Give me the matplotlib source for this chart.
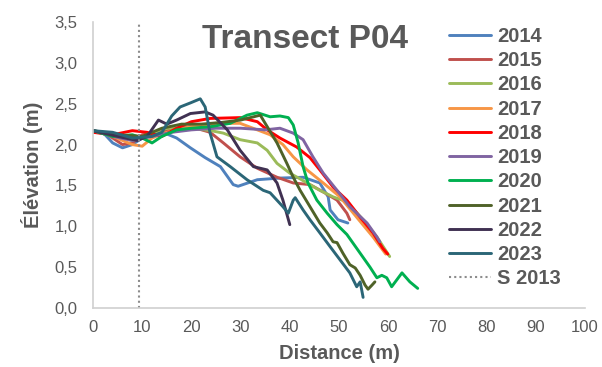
import matplotlib
matplotlib.use("Agg")
import matplotlib.pyplot as plt
from matplotlib.ticker import FuncFormatter

plt.rcParams['font.family'] = ['Liberation Sans', 'DejaVu Sans']

title = "Transect P04"
xlabel = "Distance (m)"
ylabel = "Élévation (m)"
s2013_x = 9.4

years = ["2014", "2015", "2016", "2017", "2018", "2019", "2020", "2021", "2022", "2023"]
colors = ["#4F81BD", "#C0504D", "#9BBB59", "#F79646", "#FF0000",
          "#8064A2", "#00B050", "#4F6228", "#403152", "#2B6677"]

x2014 = [0, 2, 4, 6, 8, 10, 13, 15, 17, 19.8, 22.8, 25.9, 28.5, 29.5, 33.4, 38, 42.7, 46.1, 47.8, 48.2, 49.8, 51.8]
y2014 = [2.17, 2.15, 2.02, 1.96, 2.0, 2.08, 2.12, 2.13, 2.08, 1.96, 1.84, 1.73, 1.51, 1.49, 1.57, 1.59, 1.60, 1.53, 1.36, 1.20, 1.08, 1.04]

x2015 = [0, 3, 6, 8, 10, 14, 17, 19.8, 23.8, 26.5, 29.9, 33.4, 37.4, 40.7, 44.1, 46.8, 49.6, 51.6, 52.2]
y2015 = [2.17, 2.12, 2.0, 2.02, 2.12, 2.15, 2.2, 2.22, 2.15, 2.02, 1.85, 1.71, 1.60, 1.53, 1.51, 1.42, 1.32, 1.16, 1.08]

x2016 = [0, 4, 8, 11, 15, 20, 24, 26.5, 29.9, 33.4, 35.4, 37.4, 40, 42.1, 46.1, 48.8, 51.6, 54.9, 57.7, 60.3]
y2016 = [2.17, 2.12, 2.05, 2.12, 2.2, 2.2, 2.17, 2.14, 2.06, 2.02, 1.93, 1.77, 1.65, 1.58, 1.44, 1.36, 1.30, 1.08, 0.87, 0.63]

x2017 = [0, 4, 8, 10, 12, 15, 20, 25, 29.9, 33.4, 36, 38.6, 40.7, 43.5, 46.8, 50.2, 53.6, 56.9, 59.5]
y2017 = [2.17, 2.1, 2.0, 1.98, 2.08, 2.15, 2.22, 2.26, 2.26, 2.18, 2.12, 2.0, 1.85, 1.69, 1.53, 1.36, 1.11, 0.87, 0.66]

x2018 = [0, 4, 8, 11, 14, 17, 20, 23.8, 29.9, 33.4, 35.4, 38, 41.4, 44.1, 46.1, 48.8, 51.6, 54.3, 56.9, 58.9, 59.9]
y2018 = [2.15, 2.12, 2.17, 2.15, 2.1, 2.2, 2.28, 2.32, 2.33, 2.28, 2.18, 2.08, 1.97, 1.84, 1.69, 1.48, 1.32, 1.11, 0.92, 0.73, 0.66]

x2019 = [0, 4, 8, 12, 16, 20, 25, 30, 35, 38, 40.7, 42.7, 44.7, 46.8, 49.6, 52.2, 55.7, 57.7, 58.3]
y2019 = [2.17, 2.1, 2.05, 2.1, 2.15, 2.18, 2.2, 2.2, 2.18, 2.2, 2.14, 2.06, 1.85, 1.65, 1.44, 1.24, 1.04, 0.87, 0.81]

x2020 = [0, 4, 8, 10, 12, 14, 17, 20, 24, 27.9, 31.3, 33.4, 36, 38, 39.7, 40.7, 41.7, 42.7, 43.7, 45.5, 47.6, 49.6, 51.6, 53.6, 56.3, 57.7, 58.7, 59.7, 60.7, 62.8, 64.4, 66.0]
y2020 = [2.17, 2.1, 2.12, 2.08, 2.02, 2.1, 2.18, 2.2, 2.22, 2.26, 2.36, 2.39, 2.34, 2.35, 2.33, 2.24, 2.02, 1.73, 1.53, 1.32, 1.16, 1.02, 0.90, 0.73, 0.50, 0.37, 0.40, 0.37, 0.26, 0.43, 0.32, 0.24]

x2021 = [0, 5, 10, 14, 18, 22, 26, 30, 34, 35.4, 37.4, 39.4, 40.7, 42.1, 44.1, 46.1, 47.6, 48.8, 49.6, 50.8, 52.2, 53.3, 54.3, 55.3, 55.9, 56.7, 57.3]
y2021 = [2.17, 2.12, 2.1, 2.2, 2.25, 2.25, 2.27, 2.3, 2.36, 2.22, 2.02, 1.77, 1.60, 1.44, 1.24, 1.04, 0.92, 0.81, 0.80, 0.67, 0.53, 0.49, 0.40, 0.28, 0.23, 0.28, 0.32]

x2022 = [0, 5, 9, 11, 13.3, 15, 17, 19.8, 22.8, 24.4, 27.3, 29.9, 32.6, 35.4, 37.4, 38.6, 40.0]
y2022 = [2.17, 2.1, 2.05, 2.1, 2.3, 2.25, 2.3, 2.38, 2.40, 2.36, 2.18, 1.93, 1.73, 1.69, 1.53, 1.32, 1.02]

x2023 = [0, 4, 8, 12, 14, 16, 17.7, 19.8, 21.8, 22.8, 23.8, 25.2, 27.9, 31.3, 34.6, 36, 38.6, 39.7, 40.7, 41.1, 42.7, 44.1, 46.1, 48.2, 50.2, 52.2, 53.6, 54.3, 54.9]
y2023 = [2.17, 2.15, 2.08, 2.1, 2.15, 2.35, 2.46, 2.51, 2.56, 2.46, 2.14, 1.85, 1.73, 1.57, 1.44, 1.41, 1.24, 1.16, 1.32, 1.35, 1.20, 1.08, 0.92, 0.75, 0.59, 0.43, 0.26, 0.32, 0.13]

xs = [x2014, x2015, x2016, x2017, x2018, x2019, x2020, x2021, x2022, x2023]
ys = [y2014, y2015, y2016, y2017, y2018, y2019, y2020, y2021, y2022, y2023]

xticks = list(range(0, 101, 10))
yticks = [0, 0.5, 1.0, 1.5, 2.0, 2.5, 3.0, 3.5]

txt = "#595959"
fig = plt.figure(figsize=(6.02, 3.67), dpi=100)
ax = fig.add_axes([93/602, 59/367, 492/602, 286/367])

for xv, yv, c, lab in zip(xs, ys, colors, years):
    ax.plot(xv, yv, color=c, lw=2.1, label=lab, solid_capstyle='round', solid_joinstyle='round')
ax.axvline(s2013_x, color="#8C8C8C", lw=1.5, ls=(0, (1, 1.5)), label="S 2013")

ax.set_xlim(0, 100)
ax.set_ylim(0, 3.5)
ax.set_xticks(xticks)
ax.set_yticks(yticks)
ax.yaxis.set_major_formatter(FuncFormatter(lambda v, p: f"{v:.1f}".replace(".", ",")))
ax.tick_params(length=0, labelsize=12, colors=txt)
ax.tick_params(axis='y', pad=11)
ax.tick_params(axis='x', pad=9)
for s in ["top", "right"]:
    ax.spines[s].set_visible(False)
for s in ["left", "bottom"]:
    ax.spines[s].set_color("#D0D0D0")
    ax.spines[s].set_linewidth(1.2)

ax.set_xlabel(xlabel, fontsize=14.5, fontweight='bold', color=txt, labelpad=6)
ax.set_ylabel(ylabel, fontsize=14.5, fontweight='bold', color=txt, labelpad=8)
fig.text(305/602, 1 - 39/367, title, fontsize=24, fontweight='bold', color=txt,
         ha='center', va='center')

leg = ax.legend(loc='upper left', bbox_to_anchor=(449/602, 1 - 27/367), bbox_transform=fig.transFigure,
                frameon=False, prop={'size': 14.5, 'weight': 'bold'}, handlelength=2.1,
                handletextpad=0.3, labelspacing=0.26, borderpad=0, borderaxespad=0)
for t in leg.get_texts():
    t.set_color(txt)

fig.savefig("out.png", dpi=100)
